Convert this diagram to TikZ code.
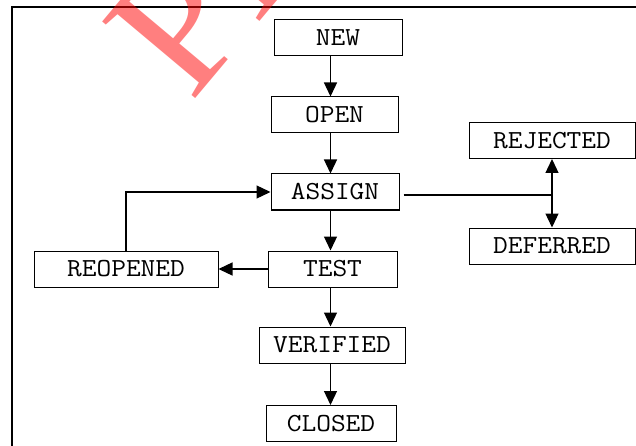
\documentclass[tikz,border=0pt]{standalone}
\usepackage{fontspec}
\usepackage{graphicx}
\newfontfamily\wmfont{Liberation Serif}
\usetikzlibrary{arrows.meta}
\newcommand\lbl[1]{\scalebox{1.1}[1]{#1}}
\begin{document}
\begin{tikzpicture}[x=1pt,y=-1pt,
  box/.style={draw=black,line width=1pt,inner sep=0pt,minimum height=36pt,font=\ttfamily\fontsize{26}{26}\selectfont},
  tri/.style={-{Triangle[width=13pt,length=14pt]},line width=1.3pt},
  wire/.style={line width=1.3pt},
  frame/.style={line width=1.6pt},
  watermark/.style={anchor=base west,inner sep=0pt,text=red,text opacity=0.5,font=\wmfont\fontsize{184}{184}\selectfont}]
\useasboundingbox (0,0) rectangle (636,446);
\fill[white] (0,0) rectangle (636,446);
\draw[frame] (12,450) -- (12,7) -- (640,7);
\node[box,minimum width=128pt] (new) at (338,38) {\lbl{NEW}};
\node[box,minimum width=127pt] (open) at (334.5,115) {\lbl{OPEN}};
\node[box,minimum width=128pt] (assign) at (335,192) {\lbl{ASSIGN}};
\node[box,minimum width=129pt] (test) at (332.5,269) {\lbl{TEST}};
\node[box,minimum width=184pt] (reop) at (126,269) {\lbl{REOPENED}};
\node[box,minimum width=166pt] (rej) at (552,140.5) {\lbl{REJECTED}};
\node[box,minimum width=166pt] (def) at (552,246) {\lbl{DEFERRED}};
\node[box,minimum width=146pt] (ver) at (332,345) {\lbl{VERIFIED}};
\node[box,minimum width=130pt] (clo) at (331,423.5) {\lbl{CLOSED}};
\coordinate (col) at (330.5,0);
\coordinate (j) at (552,195);
\draw[tri] (new.south -| col) -- (open.north -| col);
\draw[tri] (open.south -| col) -- (assign.north -| col);
\draw[tri] (assign.south -| col) -- (test.north -| col);
\draw[tri] (test.south -| col) -- (ver.north -| col);
\draw[tri] (ver.south -| col) -- (clo.north -| col);
\draw[tri] (reop.north) |- (assign.west);
\draw[tri] (test.west) -- (reop.east);
\draw[wire] ([xshift=4pt]assign.east |- j) -- (j);
\draw[tri] (j) -- (rej.south);
\draw[tri] (j) -- (def.north);
\node[watermark,rotate=50] (wm) at (191,104) {PD};
\end{tikzpicture}
\end{document}
